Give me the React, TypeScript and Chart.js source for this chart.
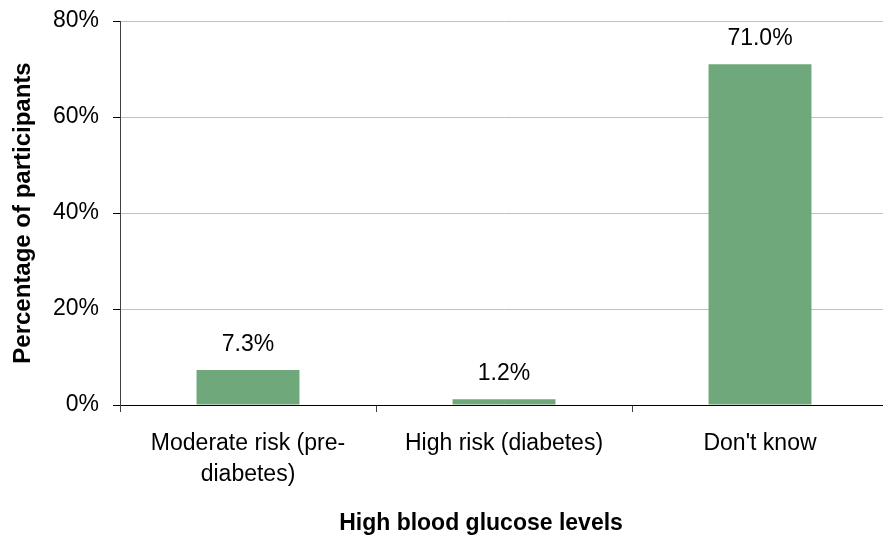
import React, { useEffect, useRef } from "react";
import { Chart, registerables } from "chart.js";

Chart.register(...registerables);

const categories: (string | string[])[] = [
  ["Moderate risk (pre-", "diabetes)"],
  "High risk (diabetes)",
  "Don't know",
];
const values: number[] = [7.3, 1.2, 71.0];
const yTicks: number[] = [0, 20, 40, 60, 80];
const xTitle = "High blood glucose levels";
const yTitle = "Percentage of participants";

const FONT = '"Liberation Sans", Arial, sans-serif';

const valueLabels = {
  id: "valueLabels",
  afterDatasetsDraw(chart: any) {
    const ctx = chart.ctx;
    const meta = chart.getDatasetMeta(0);
    meta.data.forEach((bar: any, i: number) => {
      ctx.save();
      ctx.font = `23px ${FONT}`;
      ctx.fillStyle = "#000";
      ctx.textAlign = "center";
      ctx.textBaseline = "alphabetic";
      ctx.fillText(values[i].toFixed(1) + "%", bar.x, bar.y - 19);
      ctx.restore();
    });
  },
};

const xTitlePlugin = {
  id: "xTitlePlugin",
  afterDraw(chart: any) {
    const ctx = chart.ctx;
    const a = chart.chartArea;
    ctx.save();
    ctx.font = `bold 23px ${FONT}`;
    ctx.fillStyle = "#000";
    ctx.textAlign = "center";
    ctx.textBaseline = "middle";
    ctx.fillText(xTitle, (a.left + a.right) / 2 - 23, chart.height - 15);
    ctx.restore();
  },
};

export default function App() {
  const ref = useRef<HTMLCanvasElement | null>(null);
  useEffect(() => {
    if (!ref.current) return;
    const chart = new Chart(ref.current, {
      type: "bar",
      data: {
        labels: categories,
        datasets: [
          {
            data: values,
            backgroundColor: "#6fa87b",
            borderWidth: 0,
            barPercentage: 0.402,
            categoryPercentage: 1,
          },
        ],
      },
      options: {
        animation: false,
        responsive: true,
        maintainAspectRatio: false,
        layout: { padding: { top: 21, right: 0, bottom: 0, left: 0 } },
        plugins: {
          legend: { display: false },
          tooltip: { enabled: false },
        },
        scales: {
          x: {
            grid: {
              offset: true,
              drawOnChartArea: false,
              drawTicks: true,
              tickLength: 7,
              tickColor: "#404040",
            },
            border: { color: "#000", width: 1 },
            ticks: {
              color: "#000",
              font: { family: FONT, size: 23, lineHeight: 1.35 },
              padding: 16,
              maxRotation: 0,
              autoSkip: false,
            },
            title: { display: false, text: xTitle },
            afterFit: (s: any) => {
              s.height = 134;
              s.paddingLeft = 0;
              s.paddingRight = 0;
            },
          },
          y: {
            min: 0,
            max: 80,
            afterBuildTicks: (s: any) => {
              s.ticks = yTicks.map((v) => ({ value: v }));
            },
            grid: {
              color: (c: any) => (c.tick && c.tick.value === 0 ? "#000" : "#c0c0c0"),
              drawTicks: true,
              tickLength: 7,
              tickColor: "#000",
            },
            border: { color: "#404040", width: 1 },
            ticks: {
              color: "#000",
              font: { family: FONT, size: 23 },
              padding: 14,
              callback: (v: any) => v + "%",
            },
            title: {
              display: true,
              text: yTitle,
              color: "#000",
              font: { family: FONT, size: 24, weight: "bold", lineHeight: 1.2 },
              padding: { top: 9, bottom: 0 },
            },
            afterFit: (s: any) => {
              s.width = 120;
              s.paddingTop = 0;
              s.paddingBottom = 0;
            },
          },
        },
      },
      plugins: [valueLabels, xTitlePlugin],
    });
    return () => chart.destroy();
  }, []);
  return (
    <div style={{ position: "absolute", left: 0, top: 0, width: 883, height: 539, overflow: "hidden", background: "#fff" }}>
      <div style={{ position: "relative", width: 888, height: 539 }}>
        <canvas ref={ref} />
      </div>
    </div>
  );
}
